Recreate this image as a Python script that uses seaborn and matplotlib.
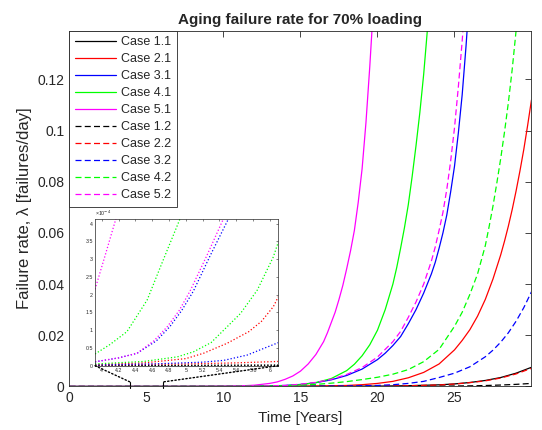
import numpy as np
import matplotlib
matplotlib.use("Agg")
import matplotlib.pyplot as plt
import seaborn as sns
from matplotlib.patches import ConnectionPatch
from matplotlib.ticker import FuncFormatter

# ---------------- data ----------------
labels = ["Case 1.1", "Case 2.1", "Case 3.1", "Case 4.1", "Case 5.1",
          "Case 1.2", "Case 2.2", "Case 3.2", "Case 4.2", "Case 5.2"]

x_1_1 = [0, 10, 15, 20, 22, 24, 25, 26, 27, 28, 29, 30]
y_1_1 = [0, 0.00001, 0.00004, 0.00015, 0.0003, 0.00064, 0.001, 0.00156, 0.00235, 0.0035, 0.0052, 0.0075]

x_2_1 = [0, 10, 14, 16, 18, 19, 20, 21, 22, 23, 24, 25, 25.5, 26, 26.5, 27, 27.5, 28, 28.25, 28.5, 28.75,
         29, 29.25, 29.5, 29.75, 30]
y_2_1 = [0, 0.00002, 0.0001, 0.0002, 0.0004, 0.0007, 0.0012, 0.002, 0.0034, 0.0055, 0.0088, 0.0143, 0.018,
         0.0222, 0.0275, 0.034, 0.042, 0.0514, 0.0568, 0.0627, 0.0692, 0.0764, 0.0842, 0.0926, 0.102, 0.112]

x_3_1 = [0, 8, 10, 12, 14, 15, 16, 17, 18, 19, 20, 20.5, 21, 21.5, 22, 22.5, 23, 23.5, 23.75, 24, 24.25,
         24.5, 24.75, 25, 25.25, 25.5, 25.75, 26]
y_3_1 = [0, 0.00001, 0.00003, 0.0001, 0.0004, 0.0008, 0.0015, 0.0026, 0.0043, 0.0068, 0.0105, 0.013, 0.016,
         0.0195, 0.0245, 0.030, 0.0365, 0.044, 0.0485, 0.054, 0.060, 0.067, 0.076, 0.086, 0.099, 0.114,
         0.133, 0.155]

x_4_1 = [0, 8, 10, 12, 14, 15, 16, 17, 18, 18.5, 19, 19.5, 20, 20.5, 20.75, 21, 21.25, 21.5, 21.75, 22,
         22.25, 22.5, 22.75, 23, 23.25, 23.5, 24]
y_4_1 = [0, 0.00002, 0.00005, 0.00012, 0.0003, 0.0007, 0.0015, 0.0031, 0.0062, 0.0087, 0.012, 0.0163,
         0.022, 0.030, 0.035, 0.040, 0.0465, 0.054, 0.062, 0.071, 0.082, 0.094, 0.107, 0.122, 0.140,
         0.159, 0.205]

x_5_1 = [0, 6, 8, 10, 11, 12, 13, 13.5, 14, 14.5, 15, 15.5, 16, 16.5, 16.75, 17, 17.25, 17.5, 17.75, 18,
         18.25, 18.5, 18.75, 19, 19.25, 19.5, 19.75, 20]
y_5_1 = [0, 0.00001, 0.00003, 0.0001, 0.0002, 0.0005, 0.0012, 0.0018, 0.0028, 0.0041, 0.006, 0.0088,
         0.0125, 0.0175, 0.021, 0.025, 0.029, 0.034, 0.0395, 0.046, 0.053, 0.061, 0.072, 0.085, 0.103,
         0.125, 0.150, 0.180]

x_1_2 = [0, 15, 20, 24, 26, 27, 28, 29, 30]
y_1_2 = [0, 0.00001, 0.00005, 0.00015, 0.00025, 0.00037, 0.00057, 0.00083, 0.0012]

x_2_2 = [0, 10, 15, 20, 22, 24, 25, 26, 27, 28, 29, 30]
y_2_2 = [0, 0.00001, 0.00004, 0.00014, 0.00028, 0.0006, 0.00095, 0.0015, 0.0022, 0.0033, 0.0049, 0.0071]

x_3_2 = [0, 10, 15, 18, 20, 21, 22, 23, 24, 25, 26, 27, 27.5, 28, 28.5, 29, 29.5, 30]
y_3_2 = [0, 0.00002, 0.0001, 0.0002, 0.0004, 0.0007, 0.0012, 0.002, 0.0035, 0.0052, 0.0077, 0.0116, 0.0142,
         0.0173, 0.021, 0.0255, 0.0308, 0.037]

x_4_2 = [0, 10, 14, 16, 17, 18, 19, 20, 21, 22, 23, 24, 24.5, 25, 25.5, 26, 26.5, 27, 27.25, 27.5, 27.75,
         28, 28.25, 28.5, 28.75, 29, 29.25, 29.5]
y_4_2 = [0, 0.00005, 0.0003, 0.0008, 0.0013, 0.0019, 0.0027, 0.0036, 0.0048, 0.0066, 0.0097, 0.0145, 0.019,
         0.0235, 0.029, 0.036, 0.044, 0.055, 0.0625, 0.0705, 0.0795, 0.089, 0.0995, 0.111, 0.124, 0.139,
         0.158, 0.180]

x_5_2 = [0, 8, 10, 12, 14, 15, 16, 17, 18, 19, 20, 20.5, 21, 21.5, 22, 22.5, 23, 23.5, 23.75, 24, 24.25,
         24.5, 24.75, 25, 25.25, 25.5, 25.75, 26]
y_5_2 = [0, 0.00001, 0.00003, 0.0001, 0.0004, 0.0009, 0.0016, 0.0028, 0.0047, 0.0074, 0.0115, 0.0145, 0.0175,
         0.0215, 0.027, 0.033, 0.040, 0.049, 0.0545, 0.061, 0.068, 0.077, 0.088, 0.101, 0.117, 0.135,
         0.156, 0.180]

# inset (magnified view) data
ix_1_1 = [3.92, 6.10]
iy_1_1 = [0.005e-4, 0.02e-4]
ix_2_1 = [3.92, 4.5, 5.0, 5.21, 5.49, 5.75, 5.9, 6.04, 6.10]
iy_2_1 = [0.03e-4, 0.08e-4, 0.2e-4, 0.35e-4, 0.63e-4, 0.96e-4, 1.25e-4, 1.66e-4, 1.94e-4]
ix_3_1 = [3.92, 4.2, 4.42, 4.65, 4.81, 4.95, 5.09, 5.29, 5.51]
iy_3_1 = [0.11e-4, 0.22e-4, 0.35e-4, 0.7e-4, 1.10e-4, 1.55e-4, 2.1e-4, 3.1e-4, 4.15e-4]
ix_4_1 = [3.92, 4.1, 4.3, 4.54, 4.73, 4.93]
iy_4_1 = [0.33e-4, 0.6e-4, 0.96e-4, 1.85e-4, 2.97e-4, 4.13e-4]
ix_5_1 = [3.92, 4.04, 4.17]
iy_5_1 = [2.15e-4, 3.1e-4, 4.15e-4]
ix_1_2 = [3.92, 6.10]
iy_1_2 = [0.002e-4, 0.008e-4]
ix_2_2 = [3.92, 5.0, 5.6, 6.10]
iy_2_2 = [0.02e-4, 0.05e-4, 0.08e-4, 0.12e-4]
ix_3_2 = [3.92, 4.6, 5.2, 5.45, 5.73, 5.93, 6.10]
iy_3_2 = [0.02e-4, 0.05e-4, 0.1e-4, 0.15e-4, 0.30e-4, 0.49e-4, 0.65e-4]
ix_4_2 = [3.92, 4.5, 4.9, 5.09, 5.3, 5.45, 5.65, 5.85, 6.04, 6.10]
iy_4_2 = [0.05e-4, 0.12e-4, 0.25e-4, 0.39e-4, 0.65e-4, 1.0e-4, 1.47e-4, 2.13e-4, 3.06e-4, 3.48e-4]
ix_5_2 = [3.92, 4.2, 4.42, 4.62, 4.78, 4.92, 5.05, 5.25, 5.45]
iy_5_2 = [0.11e-4, 0.22e-4, 0.35e-4, 0.7e-4, 1.10e-4, 1.55e-4, 2.1e-4, 3.1e-4, 4.15e-4]

x_ticks = [0, 5, 10, 15, 20, 25]
y_ticks = [0, 0.02, 0.04, 0.06, 0.08, 0.1, 0.12]
inset_x_ticks = [4.0, 4.2, 4.4, 4.6, 4.8, 5.0, 5.2, 5.4, 5.6, 5.8, 6.0]
inset_y_ticks = [0, 0.5e-4, 1e-4, 1.5e-4, 2e-4, 2.5e-4, 3e-4, 3.5e-4, 4e-4]

main_x = [x_1_1, x_2_1, x_3_1, x_4_1, x_5_1, x_1_2, x_2_2, x_3_2, x_4_2, x_5_2]
main_y = [y_1_1, y_2_1, y_3_1, y_4_1, y_5_1, y_1_2, y_2_2, y_3_2, y_4_2, y_5_2]
ins_x = [ix_1_1, ix_2_1, ix_3_1, ix_4_1, ix_5_1, ix_1_2, ix_2_2, ix_3_2, ix_4_2, ix_5_2]
ins_y = [iy_1_1, iy_2_1, iy_3_1, iy_4_1, iy_5_1, iy_1_2, iy_2_2, iy_3_2, iy_4_2, iy_5_2]

# ---------------- styling ----------------
sns.set_style("white")
plt.rcParams["font.family"] = ["Liberation Sans", "DejaVu Sans"]
dark = "#262626"
colors = ["#000000", "#ff0000", "#0000ff", "#00ff00", "#ff00ff"] * 2
dash = (0, (4.8, 2.6))
styles = ["-"] * 5 + [dash] * 5

fig = plt.figure(figsize=(5.42, 4.30), dpi=100)
ax = fig.add_axes([0.1282, 0.1012, 0.8524, 0.8274])

for xs, ys, c, ls, lab in zip(main_x, main_y, colors, styles, labels):
    sns.lineplot(x=xs, y=ys, ax=ax, color=c, linestyle=ls, linewidth=0.9, label=lab)

ax.set_xlim(0, 30)
ax.set_ylim(0, 0.139)
ax.set_xticks(x_ticks)
ax.set_yticks(y_ticks)
ax.yaxis.set_major_formatter(FuncFormatter(lambda v, _: f"{v:g}"))
ax.tick_params(direction="in", length=4, width=0.6, top=True, right=True,
               labelsize=10, colors=dark, labelcolor=dark)
for s in ax.spines.values():
    s.set_linewidth(0.6)
    s.set_color(dark)
ax.set_title("Aging failure rate for 70% loading", fontsize=11, fontweight="bold", pad=5)
ax.set_xlabel("Time [Years]", fontsize=11, color=dark)
ax.set_ylabel("Failure rate, λ [failures/day]", fontsize=12, color=dark, labelpad=4)

leg = ax.legend(loc="upper left", fontsize=9, frameon=True, fancybox=False, edgecolor=dark,
                framealpha=1, borderaxespad=0, handlelength=3.3, handletextpad=0.4,
                labelspacing=0.4, borderpad=0.45)
leg.get_frame().set_linewidth(0.6)

# ---------------- inset ----------------
axins = fig.add_axes([0.1753, 0.1495, 0.3382, 0.3412])
axins.set_facecolor("white")
for xs, ys, c in zip(ins_x, ins_y, colors):
    sns.lineplot(x=xs, y=ys, ax=axins, color=c, linestyle=":", linewidth=0.9, legend=False)
axins.set_xlim(3.92, 6.10)
axins.set_ylim(0, 4.13e-4)
axins.set_xticks(inset_x_ticks)
axins.set_yticks(inset_y_ticks)
axins.xaxis.set_major_formatter(FuncFormatter(lambda v, _: f"{v:g}"))
axins.yaxis.set_major_formatter(FuncFormatter(lambda v, _: f"{v*1e4:g}"))
axins.tick_params(direction="in", length=1.5, width=0.4, top=True, right=True,
                  labelsize=3.8, colors=dark, labelcolor=dark, pad=1.5)
for s in axins.spines.values():
    s.set_linewidth(0.5)
    s.set_color(dark)
axins.text(0.0, 1.005, "×10$^{-4}$", transform=axins.transAxes, fontsize=3.8,
           ha="left", va="bottom", color=dark)

# zoom marks on the main axes
for xm in (3.92, 6.10):
    ax.plot([xm, xm], [-0.0006, 0.0018], color="k", linewidth=0.8, clip_on=False)
    con = ConnectionPatch(xyA=(xm, 0), coordsA=axins.transData,
                          xyB=(xm, 0.0018), coordsB=ax.transData,
                          linestyle=":", color="k", linewidth=1.0)
    fig.add_artist(con)

fig.savefig("out.png", dpi=100)
